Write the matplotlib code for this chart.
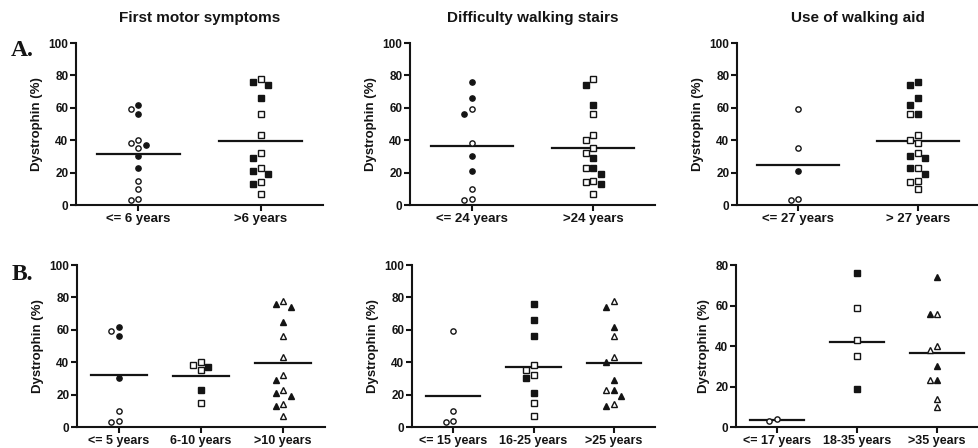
import numpy as np
import matplotlib
matplotlib.use('Agg')
import matplotlib.pyplot as plt

plt.rcParams['font.family'] = ['Liberation Sans', 'DejaVu Sans']
plt.rcParams['font.weight'] = 'bold'
plt.rcParams['axes.labelweight'] = 'bold'

titles = ['First motor symptoms', 'Difficulty walking stairs', 'Use of walking aid']

# row A
a1_cats = ['<= 6 years', '>6 years']
a1_vals = [[62, 59, 56, 40, 38, 37, 35, 30, 23, 15, 10, 4, 3],
           [78, 76, 74, 66, 56, 43, 32, 29, 23, 21, 19, 14, 13, 7]]
a1_fill = [[1, 0, 1, 0, 0, 1, 0, 1, 1, 0, 0, 0, 0],
           [0, 1, 1, 1, 0, 0, 0, 1, 0, 1, 1, 0, 1, 0]]
a1_mean = [31.5, 39.2]

a2_cats = ['<= 24 years', '>24 years']
a2_vals = [[76, 66, 59, 56, 38, 30, 21, 10, 4, 3],
           [78, 74, 62, 56, 43, 40, 35, 32, 29, 23, 23, 19, 15, 14, 13, 7]]
a2_fill = [[1, 1, 0, 1, 0, 1, 1, 0, 0, 0],
           [0, 1, 1, 0, 0, 0, 0, 0, 1, 1, 0, 1, 0, 0, 1, 0]]
a2_mean = [36.3, 35.2]

a3_cats = ['<= 27 years', '> 27 years']
a3_vals = [[59, 35, 21, 4, 3],
           [76, 74, 66, 62, 56, 56, 43, 40, 38, 32, 30, 29, 23, 23, 19, 15, 14, 10]]
a3_fill = [[0, 0, 1, 0, 0],
           [1, 1, 1, 1, 1, 0, 0, 0, 0, 0, 1, 1, 0, 1, 1, 0, 0, 0]]
a3_mean = [24.4, 39.2]

# row B
b1_cats = ['<= 5 years', '6-10 years', '>10 years']
b1_vals = [[62, 59, 56, 30, 10, 4, 3],
           [40, 38, 37, 35, 23, 15],
           [78, 76, 74, 65, 56, 43, 32, 29, 23, 21, 19, 14, 13, 7]]
b1_fill = [[1, 0, 1, 1, 0, 0, 0],
           [0, 0, 1, 0, 1, 0],
           [0, 1, 1, 1, 0, 0, 0, 1, 0, 1, 1, 0, 1, 0]]
b1_mean = [32, 31.2, 39.3]

b2_cats = ['<= 15 years', '16-25 years', '>25 years']
b2_vals = [[59, 10, 4, 3],
           [76, 66, 56, 38, 35, 32, 30, 21, 15, 7],
           [78, 74, 62, 56, 43, 40, 29, 23, 23, 19, 14, 13]]
b2_fill = [[0, 0, 0, 0],
           [1, 1, 1, 0, 0, 0, 1, 1, 0, 0],
           [0, 1, 1, 0, 0, 1, 1, 1, 0, 1, 0, 1]]
b2_mean = [19, 37.3, 39.4]

b3_cats = ['<= 17 years', '18-35 years', '>35 years']
b3_vals = [[4, 3],
           [76, 59, 43, 35, 19],
           [74, 56, 56, 40, 38, 30, 23, 23, 14, 10]]
b3_fill = [[0, 0],
           [1, 0, 0, 0, 1],
           [1, 0, 1, 0, 0, 1, 1, 0, 0, 0]]
b3_mean = [3.3, 42.1, 36.4]

panels = [
    (a1_cats, a1_vals, a1_fill, a1_mean, 100),
    (a2_cats, a2_vals, a2_fill, a2_mean, 100),
    (a3_cats, a3_vals, a3_fill, a3_mean, 100),
    (b1_cats, b1_vals, b1_fill, b1_mean, 100),
    (b2_cats, b2_vals, b2_fill, b2_mean, 100),
    (b3_cats, b3_vals, b3_fill, b3_mean, 80),
]

W, H = 979, 448
# axes boxes in pixels: left, top, right, bottom
boxes = [(76, 43, 323, 205), (410, 43, 655, 205), (737, 43, 979, 205),
         (77, 265, 325, 427), (412, 265, 655, 427), (736, 265, 978, 427)]

markers = ['o', 's', '^']
msizes = {'o': 3.8, 's': 4.0, '^': 4.8}
ink = '#141414'


def swarm(vals, px_x, px_y, d=7.5):
    # simple beeswarm: shift points sideways when they would overlap
    placed = []
    offs = []
    for v in vals:
        y = v * px_y
        cands = [0]
        for i in range(1, 8):
            cands += [-i * d, i * d]
        for c in cands:
            if all((c - px) ** 2 + (y - py) ** 2 >= d * d for px, py in placed):
                break
        placed.append((c, y))
        offs.append(c / px_x)
    return offs


fig = plt.figure(figsize=(W / 100, H / 100), dpi=100)

for k, (cats, vals, fill, means, ymax) in enumerate(panels):
    l, t, r, b = boxes[k]
    ax = fig.add_axes([l / W, 1 - b / H, (r - l) / W, (b - t) / H])
    n = len(cats)
    ax.set_xlim(-0.51, n - 0.49)
    ax.set_ylim(0, ymax)
    px_x = (r - l) / (n + 0.02)
    px_y = (b - t) / ymax
    for g in range(n):
        m = markers[g]
        offs = swarm(vals[g], px_x, px_y)
        for v, f, o in zip(vals[g], fill[g], offs):
            ax.plot(g + o, v, m, ms=msizes[m], mec=ink, mew=1.0,
                    mfc=ink if f else 'white', clip_on=False, zorder=3)
        ax.plot([g - 0.34, g + 0.34], [means[g], means[g]], color=ink, lw=1.6, zorder=2)
    ax.set_xticks(range(n))
    ax.set_xticklabels(cats)
    ax.set_yticks(np.arange(0, ymax + 1, 20))
    for s in ['top', 'right']:
        ax.spines[s].set_visible(False)
    for s in ['left', 'bottom']:
        ax.spines[s].set_linewidth(1.5)
        ax.spines[s].set_color(ink)
    ax.tick_params(direction='out', length=4, width=1.5, color=ink, labelcolor=ink)
    ax.tick_params(axis='y', labelsize=8.5, pad=1.5)
    ax.tick_params(axis='x', labelsize=9.5 if k < 3 else 9, pad=2)
    ax.set_ylabel('Dystrophin (%)', fontsize=9.5, fontweight='bold', color=ink, labelpad=4)
    if k < 3:
        fig.text((l + r) / 2 / W, 1 - 18 / H, titles[k], fontsize=11,
                 ha='center', va='center', color=ink)

fig.text(22 / W, 1 - 51 / H, 'A.', family='Liberation Serif', weight='bold',
         fontsize=17, ha='center', va='center', color=ink)
fig.text(22 / W, 1 - 275 / H, 'B.', family='Liberation Serif', weight='bold',
         fontsize=17, ha='center', va='center', color=ink)

plt.savefig('out.png', dpi=100)
